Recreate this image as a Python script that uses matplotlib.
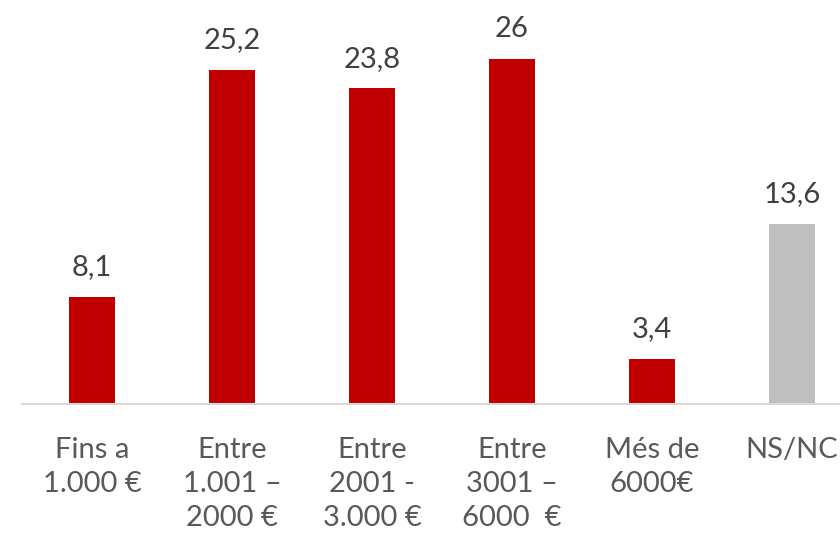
import matplotlib
matplotlib.use("Agg")
import matplotlib.pyplot as plt

# Income brackets and share of respondents (%)
categories = ["Fins a\n1.000 €", "Entre\n1.001 –\n2000 €", "Entre\n2001 -\n3.000 €",
              "Entre\n3001 –\n6000  €", "Més de\n6000€", "NS/NC"]
values = [8.1, 25.2, 23.8, 26, 3.4, 13.6]
colors = ["#C00000", "#C00000", "#C00000", "#C00000", "#C00000", "#BFBFBF"]

plt.rcParams['font.family'] = ['Lato', 'DejaVu Sans']

fig = plt.figure(figsize=(8.4, 5.36), dpi=100)
ax = fig.add_axes([22 / 840, 132 / 536, 840 / 840, 398 / 536])

x = range(len(values))
ax.bar(x, values, width=0.33, color=colors)

for xi, v in zip(x, values):
    ax.annotate(f"{v:g}".replace('.', ','), (xi, v), xytext=(0, 12),
                textcoords='offset points', ha='center', va='bottom',
                fontsize=21, color='#404040')

ax.set_xlim(-0.5, 5.5)
ax.set_ylim(0, 30)
ax.set_xticks(list(x))
ax.set_xticklabels(categories, fontsize=21, color='#595959', linespacing=1.38)
ax.tick_params(axis='x', length=0, pad=24)
ax.set_yticks([])

for side in ['top', 'right', 'left']:
    ax.spines[side].set_visible(False)
ax.spines['bottom'].set_color('#D9D9D9')
ax.spines['bottom'].set_linewidth(1.5)

fig.savefig("out.png", dpi=100)
plt.close(fig)
